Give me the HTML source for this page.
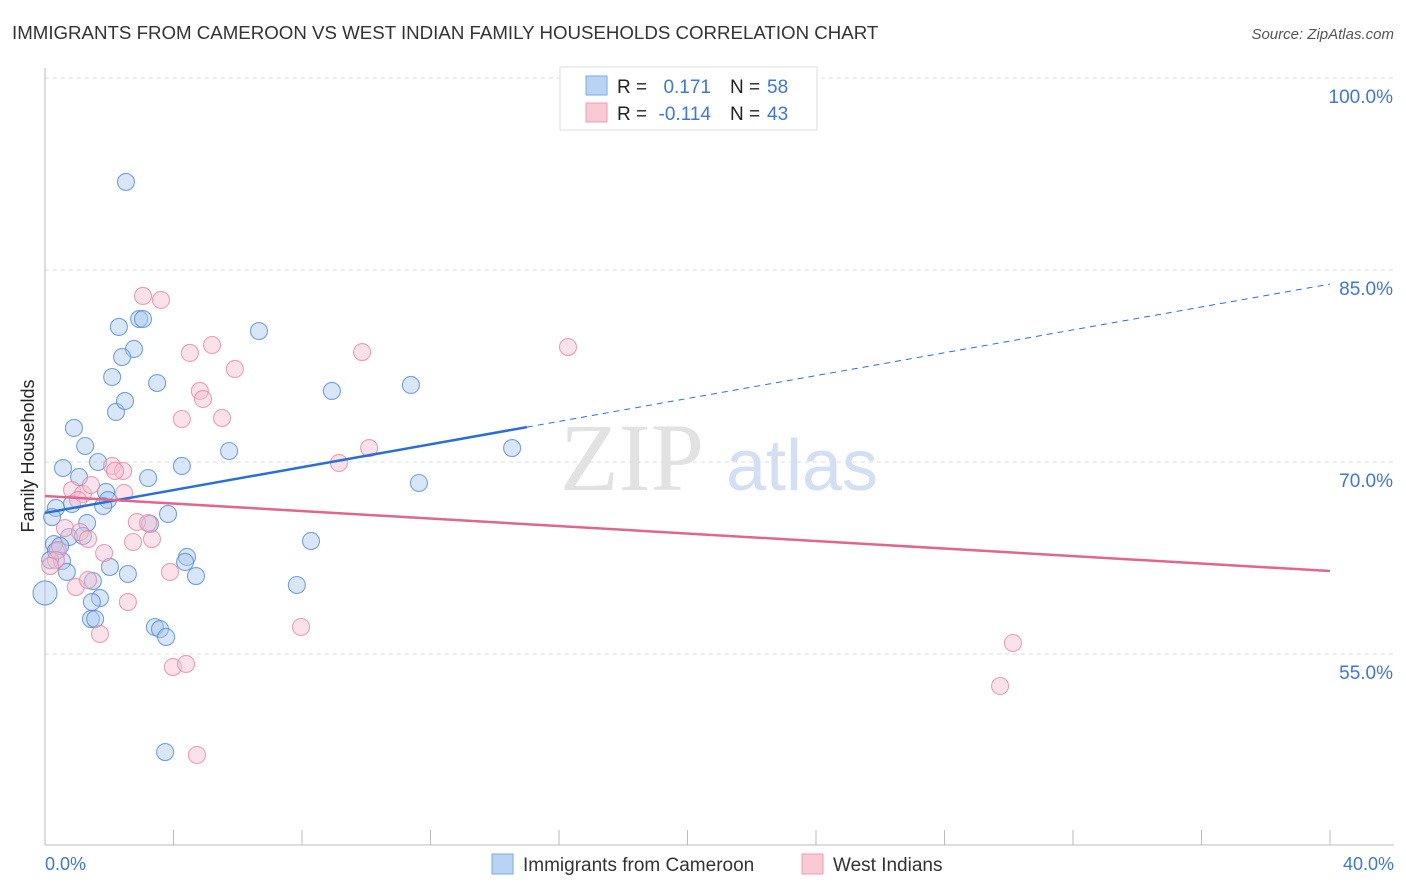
<!DOCTYPE html>
<html><head><meta charset="utf-8"><style>
body{margin:0;background:#fff;width:1406px;height:892px;overflow:hidden;font-family:"Liberation Sans",sans-serif}
</style></head><body>
<svg id="chart" width="1406" height="892" style="position:absolute;left:0;top:0">
<text x="12" y="39" font-size="18.7" fill="#333">IMMIGRANTS FROM CAMEROON VS WEST INDIAN FAMILY HOUSEHOLDS CORRELATION CHART</text>
<text x="1394" y="39" font-size="15" fill="#555" font-style="italic" text-anchor="end">Source: ZipAtlas.com</text>
<text x="34" y="456" font-size="18" fill="#222" text-anchor="middle" transform="rotate(-90 34 456)">Family Households</text>
<g><text x="632" y="490" font-size="96" fill="#e2e2e2" font-family="Liberation Serif" text-anchor="middle">ZIP</text><text x="802" y="490" font-size="72" fill="#d3e0f4" text-anchor="middle">atlas</text></g>
<g id="grid"></g><g id="marks"></g>
<g>
<rect x="560" y="67" width="257" height="63" fill="#fff" stroke="#ddd"/>
<rect x="586" y="76" width="21" height="19" fill="#b9d3f5" stroke="#7aaae8"/>
<rect x="586" y="103" width="21" height="19" fill="#f9c9d6" stroke="#f09ab2"/>
<text x="617" y="93" font-size="19" fill="#222">R =</text><text x="711" y="93" font-size="19" fill="#3b78d8" text-anchor="end">0.171</text>
<text x="730" y="93" font-size="19" fill="#222">N =</text><text x="767" y="93" font-size="19" fill="#3b78d8">58</text>
<text x="617" y="120" font-size="19" fill="#222">R =</text><text x="711" y="120" font-size="19" fill="#3b78d8" text-anchor="end">-0.114</text>
<text x="730" y="120" font-size="19" fill="#222">N =</text><text x="767" y="120" font-size="19" fill="#3b78d8">43</text>
</g>
<g>
<rect x="492" y="854" width="21" height="20" fill="#b9d3f5" stroke="#7aaae8"/><text x="523" y="871" font-size="19" fill="#333">Immigrants from Cameroon</text>
<rect x="802" y="854" width="21" height="20" fill="#f9c9d6" stroke="#f09ab2"/><text x="833" y="871" font-size="19" fill="#333">West Indians</text>
</g>
<text x="45" y="870" font-size="18" fill="#3b78d8">0.0%</text>
<text x="1394" y="870" font-size="18" fill="#3b78d8" text-anchor="end">40.0%</text>
</svg>
<script>
const yTicks=[100,85,70,55];
const yTickLabels=["100.0%","85.0%","70.0%","55.0%"];
const blueX=[2.52,2.30,2.93,3.05,6.66,2.77,2.40,2.09,3.49,8.93,11.39,2.21,2.49,0.90,1.25,1.65,0.56,4.26,5.73,14.54,1.06,3.21,11.64,1.90,1.96,1.81,0.84,0.34,0.22,3.83,1.31,3.27,0.28,0.75,1.18,8.28,0.34,4.42,4.36,0.53,2.02,0.68,2.58,4.70,1.49,7.84,1.71,1.46,0.0,1.43,1.56,3.42,3.58,3.77,3.74,0.47,0.16];
const blueY=[91.88,80.55,81.17,81.17,80.23,78.83,78.2,76.64,76.17,75.55,76.02,73.91,74.77,72.66,71.25,70.0,69.53,69.69,70.86,71.09,68.83,68.75,68.36,67.66,67.03,66.56,66.72,66.41,65.7,65.94,65.23,65.16,63.59,64.14,64.22,63.83,63.05,62.58,62.19,62.27,61.8,61.41,61.25,61.09,60.7,60.39,59.37,59.06,59.77,57.73,57.73,57.11,56.95,56.33,47.34,63.44,62.34];
const pinkX=[3.05,3.61,5.20,4.51,9.87,16.28,5.91,4.82,4.92,4.26,5.51,10.09,9.15,2.09,2.43,2.18,0.84,1.18,1.43,2.46,1.03,0.62,1.09,2.86,3.21,1.34,3.33,2.74,1.84,0.40,0.34,0.16,0.96,1.34,2.58,3.89,7.97,1.71,3.98,4.39,30.13,29.73,4.73];
const pinkY=[82.97,82.66,79.14,78.52,78.59,78.98,77.27,75.55,74.92,73.36,73.44,71.09,69.92,69.69,69.3,69.3,67.81,67.5,68.2,67.58,67.03,64.84,64.53,65.31,65.23,63.98,63.98,63.75,62.89,63.12,62.34,61.87,60.23,60.78,59.06,61.41,57.11,56.56,53.98,54.22,55.86,52.5,47.11];
const blueTrend=[66.02,83.9]; const blueSolidEnd=15;
const pinkTrend=[67.34,61.48];
const X=v=>45+v*32.125, Y=v=>78+(100-v)*12.8;
const NS="http://www.w3.org/2000/svg";
const grid=document.getElementById('grid'), marks=document.getElementById('marks');
function mk(tag,attrs,parent){const e=document.createElementNS(NS,tag);for(const k in attrs)e.setAttribute(k,attrs[k]);parent.appendChild(e);return e;}
yTicks.forEach((t,i)=>{
  const l=mk('line',{x1:45,x2:1394,y1:Y(t),y2:Y(t),stroke:'#ddd','stroke-dasharray':'4,4'},grid);
  
  
  const tx=mk('text',{x:1393,y:Y(t)+25,'font-size':19,fill:'#3b78d8','text-anchor':'end'},grid);
  tx.textContent=yTickLabels[i];
  
  
});
let ax=mk('line',{x1:45,x2:45,y1:68,y2:845,stroke:'#bbb'},grid);


ax=mk('line',{x1:45,x2:1394,y1:845,y2:845,stroke:'#bbb'},grid);


for(let i=1;i<=10;i++){const t=mk('line',{x1:X(i*4),x2:X(i*4),y1:830,y2:845,stroke:'#bbb'},grid);

}
function pts(xs,ys,fill,stroke,name){xs.forEach((x,i)=>{
  const big=(x<0.05);
  const c=mk('circle',{cx:X(x),cy:Y(ys[i]),r:big?12:8.5,fill:fill,'fill-opacity':0.45,stroke:stroke,'stroke-opacity':0.75,'stroke-width':1.1},marks);
  
  
});}
pts(blueX,blueY,'#a9c8f0','#4a86d8','point-cameroon');
pts(pinkX,pinkY,'#f6bfd0','#e8809f','point-west-indians');
const lt=v=>blueTrend[0]+(blueTrend[1]-blueTrend[0])*v/40;
let l=mk('line',{x1:X(0),y1:Y(lt(0)),x2:X(blueSolidEnd),y2:Y(lt(blueSolidEnd)),stroke:'#2a6fd6','stroke-width':2.5},marks);


l=mk('line',{x1:X(blueSolidEnd),y1:Y(lt(blueSolidEnd)),x2:X(40),y2:Y(lt(40)),stroke:'#2a6fd6','stroke-width':1,'stroke-dasharray':'6,5'},marks);


l=mk('line',{x1:X(0),y1:Y(pinkTrend[0]),x2:X(40),y2:Y(pinkTrend[1]),stroke:'#e06690','stroke-width':2.5},marks);


</script>
</body></html>
